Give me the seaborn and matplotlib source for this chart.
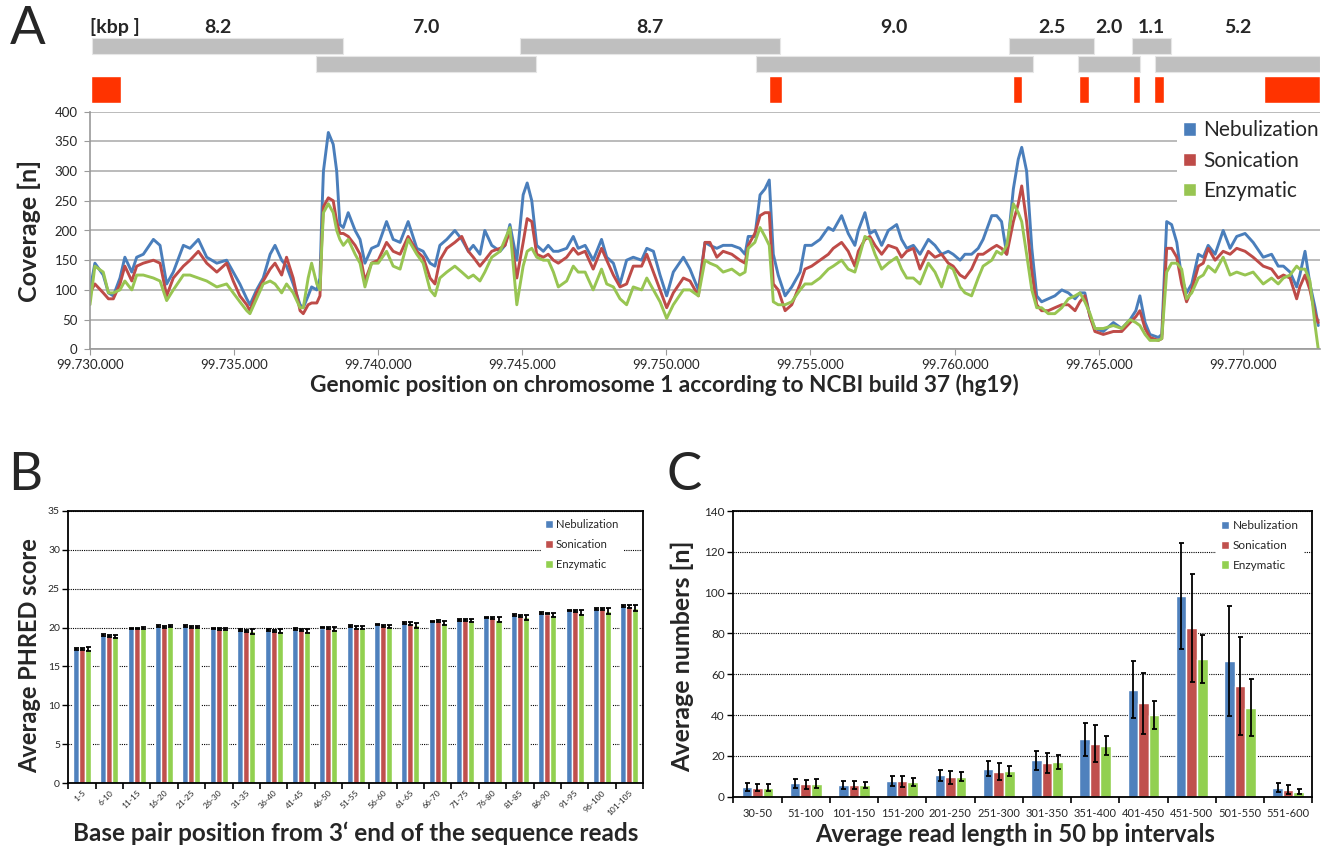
import matplotlib
matplotlib.use("Agg")
import matplotlib.pyplot as plt
from matplotlib.patches import Patch
from matplotlib.ticker import FuncFormatter
import numpy as np
import pandas as pd
import seaborn as sns

sns.set_style("white")
plt.rcParams["font.family"] = ["Lato", "DejaVu Sans"]

methods = ["Nebulization", "Sonication", "Enzymatic"]
line_colors = ["#4A7EBB", "#BE4B48", "#98C552"]
bar_colors = ["#4F81BD", "#C0504D", "#92D050"]

START_BP = 99730000

# Panel A: coverage, positions in kb after START_BP
cov_pos_kb = [
    0.00, 0.17, 0.46, 0.64, 0.81, 1.04, 1.21, 1.45, 1.62, 1.85, 2.20, 2.43, 2.66, 2.89, 3.24,
    3.47, 3.76, 4.05, 4.40, 4.74, 4.97, 5.20, 5.44, 5.55, 5.78, 6.01, 6.25, 6.42, 6.65, 6.82,
    7.05, 7.29, 7.40, 7.57, 7.69, 7.87, 7.98, 8.04, 8.10, 8.27, 8.44, 8.56, 8.67, 8.79, 8.96,
    9.20, 9.37, 9.54, 9.77, 10.00, 10.29, 10.52, 10.76, 11.04, 11.34, 11.56, 11.80, 11.97,
    12.14, 12.38, 12.66, 12.90, 13.13, 13.30, 13.53, 13.70, 13.94, 14.23, 14.40, 14.57, 14.81,
    15.03, 15.17, 15.33, 15.50, 15.73, 15.90, 16.08, 16.25, 16.54, 16.77, 16.94, 17.18, 17.46,
    17.75, 17.93, 18.16, 18.39, 18.62, 18.85, 19.14, 19.32, 19.55, 19.78, 20.01, 20.24, 20.59,
    20.82, 21.11, 21.34, 21.51, 21.75, 21.97, 22.27, 22.55, 22.73, 22.84, 23.07, 23.25, 23.42,
    23.57, 23.71, 23.88, 24.12, 24.35, 24.64, 24.81, 25.04, 25.33, 25.62, 25.79, 26.08, 26.31,
    26.54, 26.66, 26.89, 27.06, 27.24, 27.47, 27.70, 27.99, 28.16, 28.34, 28.57, 28.80, 29.09,
    29.32, 29.55, 29.78, 29.95, 30.19, 30.36, 30.59, 30.82, 30.99, 31.29, 31.46, 31.63, 31.81,
    32.04, 32.21, 32.33, 32.50, 32.68, 32.85, 33.02, 33.25, 33.48, 33.72, 33.95, 34.18, 34.35,
    34.52, 34.70, 34.87, 35.16, 35.51, 35.80, 36.09, 36.29, 36.43, 36.61, 36.78, 37.07, 37.19,
    37.36, 37.53, 37.71, 37.88, 38.05, 38.23, 38.46, 38.63, 38.80, 39.04, 39.32, 39.56, 39.79,
    40.08, 40.36, 40.71, 41.00, 41.23, 41.41, 41.64, 41.87, 41.98, 42.16, 42.33, 42.51, 42.62,
]
cov_nebulization = [
    100, 145, 125, 95, 90, 120, 155, 130, 155, 160, 185, 175, 110, 130, 175,
    170, 185, 155, 145, 150, 130, 110, 85, 75, 100, 120, 160, 175, 150, 140,
    110, 75, 70, 90, 105, 100, 120, 220, 300, 365, 345, 300, 210, 205, 230,
    200, 185, 145, 170, 175, 215, 185, 180, 215, 170, 165, 145, 140,
    175, 185, 200, 185, 165, 175, 160, 200, 175, 165, 175, 210, 150,
    260, 280, 250, 175, 165, 175, 165, 165, 170, 190, 170, 175, 150,
    185, 155, 145, 110, 150, 155, 150, 170, 165, 125, 90, 130, 155,
    135, 100, 180, 175, 170, 175, 175, 170, 160, 190, 190, 260, 270,
    285, 160, 125, 90, 105, 130, 175, 175, 185, 205, 200, 225, 195,
    175, 200, 230, 195, 200, 175, 200, 210, 185, 170, 175, 160, 185,
    175, 160, 165, 160, 150, 160, 160, 170, 185, 225, 225, 215, 160,
    270, 320, 340, 300, 170, 90, 80, 85, 90, 100, 95, 85, 95,
    95, 55, 35, 30, 45, 35, 50, 65, 90, 45, 25, 20, 25,
    215, 210, 180, 120, 95, 110, 160, 155, 175, 160, 200, 170, 190,
    195, 180, 155, 160, 140, 140, 130, 105, 125, 165, 110, 70, 40,
]
cov_sonication = [
    95, 110, 95, 85, 85, 110, 140, 115, 140, 145, 150, 145, 90, 120, 140,
    150, 165, 145, 130, 145, 115, 90, 75, 65, 95, 115, 135, 145, 125, 155,
    120, 65, 60, 75, 78, 78, 90, 180, 240, 255, 250, 215, 195, 195, 190,
    175, 160, 115, 145, 150, 180, 165, 160, 190, 165, 155, 120, 110,
    150, 170, 180, 190, 165, 155, 140, 150, 165, 170, 175, 200, 120,
    180, 220, 215, 160, 155, 160, 150, 145, 155, 170, 160, 165, 135,
    170, 150, 125, 105, 110, 140, 140, 160, 130, 100, 70, 95, 120,
    115, 90, 180, 180, 155, 165, 160, 150, 145, 175, 195, 225, 230,
    230, 110, 100, 65, 75, 110, 135, 140, 150, 160, 170, 180, 165,
    140, 165, 185, 190, 175, 160, 175, 170, 155, 165, 170, 135, 165,
    155, 160, 145, 140, 125, 120, 135, 160, 160, 170, 175, 170, 160,
    215, 245, 275, 215, 130, 75, 65, 65, 70, 75, 75, 65, 80,
    90, 55, 30, 25, 30, 30, 45, 55, 65, 35, 20, 15, 18,
    170, 170, 155, 110, 80, 100, 140, 145, 170, 150, 165, 160, 170,
    165, 155, 140, 135, 120, 125, 120, 85, 105, 125, 100, 60, 45,
]
cov_enzymatic = [
    75, 140, 130, 95, 95, 100, 115, 100, 125, 125, 120, 115, 82, 100, 125,
    125, 120, 115, 105, 110, 95, 80, 65, 60, 85, 110, 115, 110, 95, 110,
    95, 70, 70, 120, 145, 110, 100, 170, 230, 245, 230, 200, 185, 175, 185,
    160, 145, 105, 145, 145, 165, 140, 135, 185, 160, 145, 100, 90,
    120, 130, 140, 130, 120, 125, 115, 130, 155, 165, 185, 205, 75,
    140, 165, 170, 155, 150, 150, 130, 105, 115, 140, 130, 130, 100,
    135, 110, 105, 85, 75, 105, 100, 120, 100, 80, 52, 75, 100,
    100, 90, 150, 145, 140, 130, 135, 125, 130, 170, 180, 205, 190,
    175, 80, 75, 75, 80, 100, 110, 110, 120, 135, 140, 150, 135,
    130, 150, 190, 185, 160, 135, 145, 155, 135, 120, 120, 110, 145,
    130, 105, 140, 135, 105, 95, 90, 120, 140, 150, 165, 160, 175,
    245, 230, 215, 160, 100, 70, 70, 60, 60, 70, 85, 90, 95,
    80, 60, 35, 35, 40, 35, 50, 45, 40, 25, 15, 15, 18,
    130, 145, 145, 135, 85, 95, 120, 125, 140, 130, 155, 125, 130,
    125, 130, 110, 120, 110, 120, 125, 140, 135, 135, 115, 40, 0,
]

# fragment track above panel A (kb after START_BP)
frag_labels = ["8.2", "7.0", "8.7", "9.0", "2.5", "2.0", "1.1", "5.2"]
frag_start_kb = [0.06, 7.84, 14.92, 23.11, 31.90, 34.30, 36.16, 36.96]
frag_end_kb = [8.78, 15.48, 23.93, 32.71, 34.85, 36.42, 37.52, 42.68]
frag_row = [0, 1, 0, 1, 0, 1, 0, 1]
red_start_kb = [0.05, 23.55, 32.03, 34.32, 36.20, 36.92, 40.73]
red_end_kb = [1.06, 24.00, 32.35, 34.66, 36.44, 37.26, 42.68]

# Panel B: PHRED score
phred_bins = ["1-5", "6-10", "11-15", "16-20", "21-25", "26-30", "31-35", "36-40", "41-45",
              "46-50", "51-55", "56-60", "61-65", "66-70", "71-75", "76-80", "81-85", "86-90",
              "91-95", "96-100", "101-105"]
phred_neb = [17.2, 19.0, 19.9, 20.2, 20.2, 19.9, 19.7, 19.7, 19.8, 20.0, 20.2, 20.4, 20.6, 20.8,
             21.0, 21.3, 21.6, 21.9, 22.2, 22.4, 22.8]
phred_son = [17.2, 18.9, 19.9, 20.1, 20.1, 19.8, 19.6, 19.5, 19.7, 19.9, 20.0, 20.2, 20.5, 20.8,
             21.0, 21.2, 21.5, 21.8, 22.1, 22.4, 22.7]
phred_enz = [17.2, 18.9, 19.9, 20.2, 20.1, 19.8, 19.5, 19.5, 19.6, 19.8, 20.0, 20.1, 20.3, 20.6,
             20.9, 21.0, 21.3, 21.6, 21.9, 22.1, 22.5]
phred_neb_err = [0.12, 0.15, 0.1, 0.1, 0.1, 0.1, 0.12, 0.12, 0.12, 0.1, 0.1, 0.1, 0.1, 0.1,
                 0.1, 0.1, 0.1, 0.1, 0.1, 0.12, 0.12]
phred_son_err = [0.12, 0.15, 0.1, 0.1, 0.1, 0.1, 0.12, 0.12, 0.12, 0.12, 0.15, 0.15, 0.15, 0.12,
                 0.12, 0.15, 0.12, 0.12, 0.15, 0.15, 0.15]
phred_enz_err = [0.25, 0.2, 0.15, 0.15, 0.15, 0.15, 0.3, 0.25, 0.25, 0.25, 0.25, 0.2, 0.3, 0.3,
                 0.25, 0.3, 0.3, 0.3, 0.3, 0.35, 0.35]

# Panel C: read length distribution
len_bins = ["30-50", "51-100", "101-150", "151-200", "201-250", "251-300", "301-350",
            "351-400", "401-450", "451-500", "501-550", "551-600"]
len_neb = [4.8, 6.7, 5.9, 7.5, 10.5, 13.8, 17.8, 28.1, 52.5, 98.5, 66.5, 4.5]
len_son = [4.5, 6.2, 5.9, 7.5, 9.5, 12.3, 16.5, 26.0, 45.8, 82.8, 54.3, 3.5]
len_enz = [4.5, 6.3, 5.7, 7.2, 9.8, 12.5, 17.0, 25.0, 40.0, 67.5, 43.5, 2.5]
len_neb_err = [1.8, 2.2, 2.0, 2.5, 2.8, 3.8, 4.5, 8.0, 14.0, 26.0, 27.0, 2.2]
len_son_err = [1.8, 2.2, 2.0, 2.6, 3.2, 4.2, 5.0, 9.0, 15.0, 26.5, 24.0, 2.3]
len_enz_err = [1.5, 2.2, 1.6, 2.0, 2.2, 2.6, 3.2, 4.5, 7.0, 11.8, 14.0, 1.4]

W, H = 1333, 856
fig = plt.figure(figsize=(W / 100, H / 100), dpi=100)


def frac_box(x0, y0, x1, y1):
    # pixel box (top-left origin) to figure fraction
    return [x0 / W, 1 - y1 / H, (x1 - x0) / W, (y1 - y0) / H]


# ---------- Panel A ----------
axA = fig.add_axes(frac_box(90, 111.7, 1320, 349.3))
df_cov = pd.DataFrame({
    "pos": START_BP + np.array(cov_pos_kb) * 1000,
    "Nebulization": cov_nebulization,
    "Sonication": cov_sonication,
    "Enzymatic": cov_enzymatic,
}).melt(id_vars="pos", var_name="method", value_name="coverage")
sns.lineplot(data=df_cov, x="pos", y="coverage", hue="method", hue_order=methods,
             palette=line_colors, linewidth=2.1, errorbar=None, legend=False, ax=axA)
x_end = START_BP + 42680
axA.set_xlim(START_BP, x_end)
axA.set_ylim(0, 400)
axA.set_yticks(range(0, 401, 50))
axA.set_xticks(range(START_BP, x_end, 5000))
axA.xaxis.set_major_formatter(FuncFormatter(lambda v, p: f"{int(v):,}".replace(",", ".")))
axA.yaxis.grid(True, color="#B5B5B5", lw=1.3)
axA.set_axisbelow(True)
for s in ["top", "right"]:
    axA.spines[s].set_visible(False)
for s in ["left", "bottom"]:
    axA.spines[s].set_color("#9A9A9A")
    axA.spines[s].set_linewidth(1.2)
axA.tick_params(axis="both", bottom=True, left=True, length=4, color="#9A9A9A",
                labelsize=9.5, pad=5)
axA.tick_params(axis="x", pad=3)
axA.set_xlabel("Genomic position on chromosome 1 according to NCBI build 37 (hg19)",
               fontsize=16.3, fontweight="bold")
axA.xaxis.set_label_coords(0.467, -0.152)
axA.xaxis.label.set_va("center")
axA.set_ylabel("Coverage [n]", fontsize=18, fontweight="bold")
axA.yaxis.set_label_coords(-0.049, 0.5)
axA.yaxis.label.set_va("center")
handles_line = [Patch(facecolor=c, label=m) for c, m in zip(line_colors, methods)]
axA.legend(handles=handles_line, loc="upper right", bbox_to_anchor=(1.004, 0.99),
           fontsize=15, handlelength=0.6, handleheight=0.6, handletextpad=0.35,
           labelspacing=0.5, borderpad=0.3, borderaxespad=0, frameon=True,
           facecolor="white", edgecolor="none", framealpha=1, fancybox=False)

# fragment track
axT = fig.add_axes(frac_box(90, 12, 1320, 105))
axT.set_xlim(START_BP, x_end)
axT.set_ylim(105, 12)
axT.axis("off")
row_y = [46, 64.2]
for lab, s, e, r in zip(frag_labels, frag_start_kb, frag_end_kb, frag_row):
    axT.barh(row_y[r], (e - s) * 1000, left=START_BP + s * 1000, height=15.5,
             color="#BFBFBF", edgecolor="#E6E6E6", linewidth=0.8)
    axT.text(START_BP + (s + e) / 2 * 1000, 27.5, lab, ha="center", va="center",
             fontsize=14, fontweight="bold")
axT.text(START_BP, 27.5, "[kbp ]", ha="left", va="center", fontsize=14, fontweight="bold")
for s, e in zip(red_start_kb, red_end_kb):
    axT.barh(89.3, (e - s) * 1000, left=START_BP + s * 1000, height=26.5, color="#FF3300")


# ---------- Panels B and C ----------
def grouped_bars(ax, bins, values, errors, ymax, ystep, tick_size, leg_size, leg_space, leg_anchor):
    df = pd.concat([pd.DataFrame({"bin": bins, "method": m, "value": v})
                    for m, v in zip(methods, values)])
    sns.barplot(data=df, x="bin", y="value", hue="method", order=bins, hue_order=methods,
                palette=bar_colors, width=0.66, gap=0, saturation=1, errorbar=None,
                legend=False, ax=ax)
    for cont, err in zip(ax.containers, errors):
        xs = [b.get_x() + b.get_width() / 2 for b in cont]
        ys = [b.get_height() for b in cont]
        ax.errorbar(xs, ys, yerr=err, fmt="none", ecolor="black", elinewidth=1.3,
                    capsize=1.8, capthick=1.3, zorder=5)
    n = len(bins)
    ax.set_xlim(-0.5, n - 0.5)
    ax.set_ylim(0, ymax)
    ax.set_yticks(np.arange(0, ymax + 1, ystep))
    ax.set_xticks(np.arange(n + 1) - 0.5, minor=True)
    ax.yaxis.grid(True, color="black", linestyle=(0, (1, 1)), lw=0.8)
    ax.set_axisbelow(True)
    for s in ax.spines.values():
        s.set_color("black")
        s.set_linewidth(1.3)
    ax.tick_params(axis="y", left=True, length=4, width=1, color="black",
                   labelsize=tick_size, pad=2)
    ax.tick_params(axis="x", which="major", bottom=True, length=0)
    ax.tick_params(axis="x", which="minor", bottom=True, length=4, width=1.2, color="black")
    handles = [Patch(facecolor=c, label=m) for c, m in zip(bar_colors, methods)]
    ax.legend(handles=handles, loc="upper right", bbox_to_anchor=leg_anchor,
              fontsize=leg_size, handlelength=0.7, handleheight=0.7, handletextpad=0.3,
              labelspacing=leg_space, borderpad=0.4, borderaxespad=0, frameon=True,
              facecolor="white", edgecolor="none", framealpha=1, fancybox=False)


axB = fig.add_axes(frac_box(68.3, 510.7, 643, 783.3))
grouped_bars(axB, phred_bins, [phred_neb, phred_son, phred_enz],
             [phred_neb_err, phred_son_err, phred_enz_err], 35, 5, 7.5, 8, 0.8, (0.965, 0.985))
axB.set_xticks(range(len(phred_bins)))
axB.set_xticklabels(phred_bins, rotation=45, ha="right", rotation_mode="anchor", fontsize=6)
axB.tick_params(axis="x", which="major", pad=4)
axB.set_xlabel("Base pair position from 3\u2018 end of the sequence reads",
               fontsize=17.5, fontweight="bold")
axB.xaxis.set_label_coords(0.5, -0.182)
axB.xaxis.label.set_va("center")
axB.set_ylabel("Average PHRED score", fontsize=17, fontweight="bold")
axB.yaxis.set_label_coords(-0.067, 0.47)
axB.yaxis.label.set_va("center")

axC = fig.add_axes(frac_box(733.3, 511, 1312.3, 796.7))
grouped_bars(axC, len_bins, [len_neb, len_son, len_enz],
             [len_neb_err, len_son_err, len_enz_err], 140, 20, 8.5, 8.5, 0.75, (0.985, 0.985))
axC.set_xticks(range(len(len_bins)))
axC.set_xticklabels(len_bins, fontsize=8)
axC.tick_params(axis="x", which="major", pad=8)
axC.set_xlabel("Average read length in 50 bp intervals", fontsize=17, fontweight="bold")
axC.xaxis.set_label_coords(0.487, -0.134)
axC.xaxis.label.set_va("center")
axC.set_ylabel("Average numbers [n]", fontsize=18, fontweight="bold")
axC.yaxis.set_label_coords(-0.087, 0.49)
axC.yaxis.label.set_va("center")

# panel letters
for letter, px, py in [("A", 28, 30), ("B", 25, 475), ("C", 684, 475)]:
    fig.text(px / W, 1 - py / H, letter, fontsize=38, ha="center", va="center")

fig.savefig("out.png", dpi=100)
